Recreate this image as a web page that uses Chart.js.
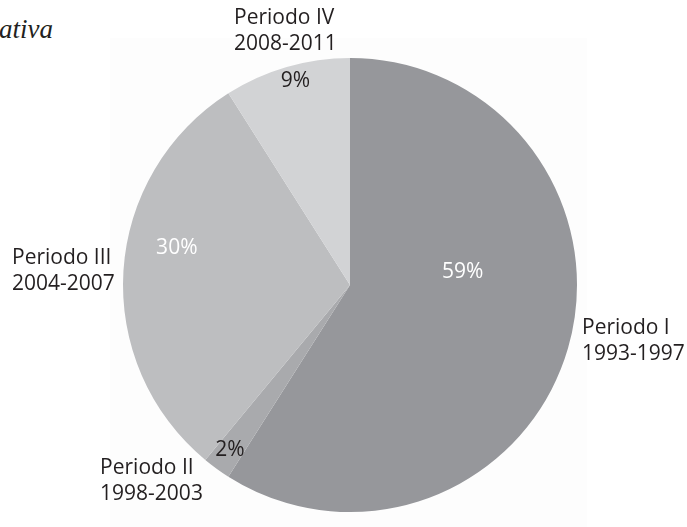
<!DOCTYPE html>
<html>
<head>
<meta charset="utf-8">
<script src="https://cdn.jsdelivr.net/npm/chart.js@4"></script>
<style>
  html, body { margin:0; padding:0; background:#fff; }
  #wrap { position:relative; width:687px; height:527px; overflow:hidden; }
  #panel { position:absolute; left:110px; top:38px; width:477px; height:489px; background:#fdfdfd; }
  #frag { position:absolute; left:-1px; top:14px; font-family:"Liberation Serif", serif; font-style:italic; font-size:27px; color:#231f20; }
  canvas { position:absolute; left:0; top:0; }
</style>
</head>
<body>
<div id="wrap">
  <div id="panel"></div>
  <div id="frag">ativa</div>
  <canvas id="pie" width="687" height="527"></canvas>
</div>
<script>
// data
const periods = ["Periodo I", "Periodo II", "Periodo III", "Periodo IV"];
const years   = ["1993-1997", "1998-2003", "2004-2007", "2008-2011"];
const shares  = [59, 2, 30, 9];

// styling
const fills     = ["#96979b", "#a9aaad", "#bdbec0", "#d2d3d5"];
const pctColors = ["#ffffff", "#231f20", "#ffffff", "#231f20"];
// inside label: angle (deg, chart.js convention) + radius fraction
const pctPos = [{a:-6.6, r:0.50}, {a:126, r:0.90}, {a:192, r:0.78}, {a:255, r:0.93}];
// outer label: left edge / vertical middle, as offsets from centre in radius units
const namePos = [{dx:1.022, dy:0.247}, {dx:-1.101, dy:0.863}, {dx:-1.489, dy:-0.062}, {dx:-0.511, dy:-1.119}];

const FONT = '"Open Sans", "Noto Sans", sans-serif';

const labelPlugin = {
    id: "pieLabels",
    afterDatasetsDraw(chart) {
        const ctx = chart.ctx;
        const arcs = chart.getDatasetMeta(0).data;
        ctx.save();
        ctx.font = `21px ${FONT}`;
        ctx.textBaseline = "middle";
        arcs.forEach((arc, i) => {
            const cx = arc.x, cy = arc.y, R = arc.outerRadius;
            // percent
            const p = pctPos[i], ang = p.a * Math.PI / 180;
            ctx.fillStyle = pctColors[i];
            ctx.textAlign = "center";
            ctx.fillText(shares[i] + "%", cx + Math.cos(ang) * R * p.r, cy + Math.sin(ang) * R * p.r);
            // name + years
            const n = namePos[i];
            const lx = cx + n.dx * R, ly = cy + n.dy * R;
            ctx.fillStyle = "#231f20";
            ctx.textAlign = "left";
            ctx.fillText(periods[i], lx, ly - 13);
            ctx.fillText(years[i], lx, ly + 13);
        });
        ctx.restore();
    }
};

new Chart(document.getElementById("pie").getContext("2d"), {
    type: "pie",
    data: {
        labels: periods,
        datasets: [{ data: shares, backgroundColor: fills, borderWidth: 0 }]
    },
    options: {
        responsive: false,
        animation: false,
        layout: { padding: { top: 58, bottom: 15, left: 13, right: 0 } },
        plugins: { legend: { display: false }, tooltip: { enabled: false } }
    },
    plugins: [labelPlugin]
});
</script>
</body>
</html>
